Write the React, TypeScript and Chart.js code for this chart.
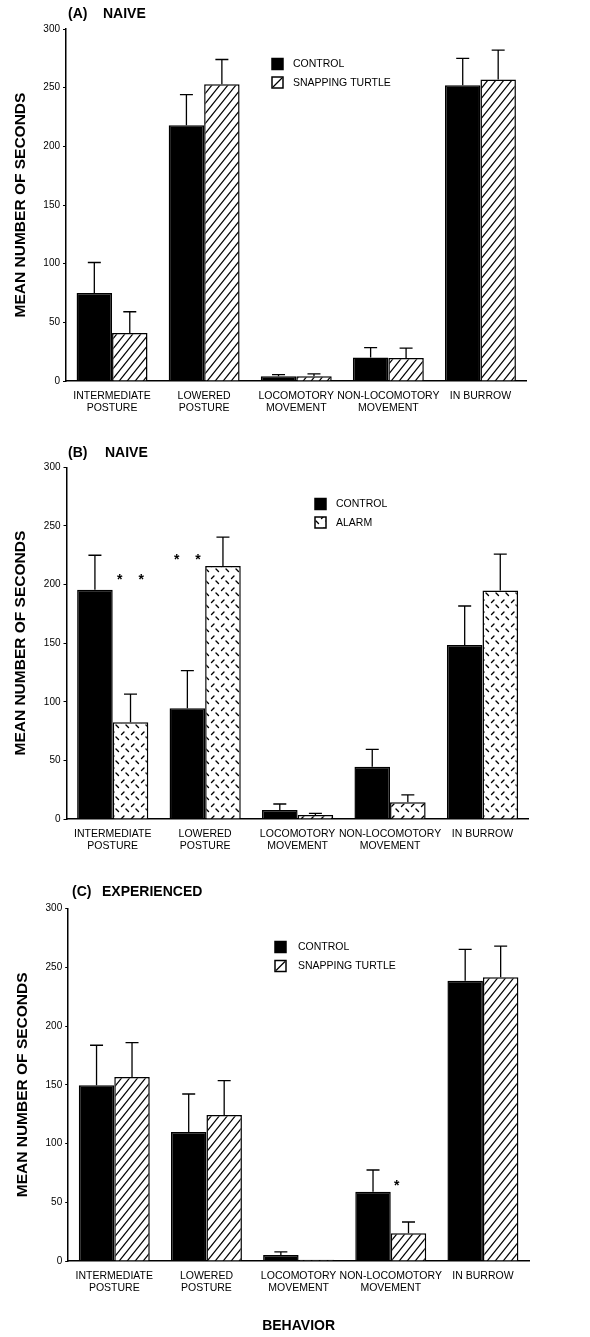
import React, { useEffect, useRef } from 'react';
import { Chart, registerables } from 'chart.js';

Chart.register(...registerables);

const FONT = "'Liberation Sans', Arial, Helvetica, sans-serif";

// ---------- data ----------
const categories: (string | string[])[] = [
  ['INTERMEDIATE', 'POSTURE'],
  ['LOWERED', 'POSTURE'],
  ['LOCOMOTORY', 'MOVEMENT'],
  ['NON-LOCOMOTORY', 'MOVEMENT'],
  'IN BURROW',
];
const yTicks = [0, 50, 100, 150, 200, 250, 300];

// (A) NAIVE – control vs snapping turtle
const aControl = [75, 218, 4, 20, 252];
const aControlErr = [101, 244, 5.5, 28.5, 275];
const aTurtle = [41, 253, 4, 19.5, 257];
const aTurtleErr = [59, 274, 6, 28, 282];

// (B) NAIVE – control vs alarm
const bControl = [195.5, 94.5, 7.7, 44.6, 148.4];
const bControlErr = [225, 126.5, 12.8, 59.4, 181.7];
const bAlarm = [82.5, 215.8, 3.4, 14.2, 195];
const bAlarmErr = [106.6, 240.5, 4.8, 20.5, 226];

// (C) EXPERIENCED – control vs snapping turtle
const cControl = [149.6, 109.8, 5.1, 59, 238.7];
const cControlErr = [183.7, 142.2, 7.7, 77.5, 265.4];
const cTurtle = [156.7, 124.3, 1, 23.6, 241.6];
const cTurtleErr: (number | null)[] = [185.9, 153.6, null, 33.2, 268.2];

// significance marks: category, dataset, number of stars, height (value units)
const bStars = [
  { cat: 0, ds: 1, count: 2, value: 207 },
  { cat: 1, ds: 0, count: 2, value: 224 },
  { cat: 4, ds: 0, count: 1, value: 209 },
];
const cStars = [{ cat: 3, ds: 1, count: 1, value: 67, shift: -0.33 }];

// ---------- patterns ----------
function hatchPattern(): CanvasPattern | string {
  const w = 8, h = 10;
  const c = document.createElement('canvas');
  c.width = w; c.height = h;
  const g = c.getContext('2d')!;
  g.fillStyle = '#fff';
  g.fillRect(0, 0, w, h);
  g.strokeStyle = '#000';
  g.lineWidth = 1.2;
  for (let k = -1; k <= 1; k++) {
    g.beginPath();
    g.moveTo(-w + k * w, 2 * h);
    g.lineTo(2 * w + k * w, -h);
    g.stroke();
  }
  return g.createPattern(c, 'repeat') || '#fff';
}

function alarmPattern(): CanvasPattern | string {
  const w = 10, h = 12;
  const c = document.createElement('canvas');
  c.width = w; c.height = h;
  const g = c.getContext('2d')!;
  g.fillStyle = '#fff';
  g.fillRect(0, 0, w, h);
  g.strokeStyle = '#000';
  g.lineWidth = 1.4;
  g.lineCap = 'round';
  g.beginPath();
  g.moveTo(1.5, 4.5); g.lineTo(4, 2);
  g.moveTo(6, 7); g.lineTo(8.5, 9.5);
  g.stroke();
  return g.createPattern(c, 'repeat') || '#fff';
}

// ---------- plugins ----------
const errorBars = {
  id: 'errorBars',
  afterDatasetsDraw(chart: any) {
    const { ctx } = chart;
    const y = chart.scales.y;
    chart.data.datasets.forEach((ds: any, di: number) => {
      const meta = chart.getDatasetMeta(di);
      const tops = ds.errTop || [];
      meta.data.forEach((bar: any, i: number) => {
        const t = tops[i];
        if (t == null) return;
        const yt = y.getPixelForValue(t);
        ctx.save();
        ctx.strokeStyle = '#000';
        ctx.lineWidth = 1.3;
        ctx.beginPath();
        ctx.moveTo(bar.x, bar.y);
        ctx.lineTo(bar.x, yt);
        ctx.moveTo(bar.x - 6.5, yt);
        ctx.lineTo(bar.x + 6.5, yt);
        ctx.stroke();
        ctx.restore();
      });
    });
  },
};

const stars = {
  id: 'stars',
  afterDatasetsDraw(chart: any, _a: any, opts: any) {
    const list = opts?.marks || [];
    const { ctx } = chart;
    const y = chart.scales.y;
    list.forEach((m: any) => {
      const bar = chart.getDatasetMeta(m.ds).data[m.cat];
      const yp = y.getPixelForValue(m.value);
      const w = bar.width;
      const xs = m.count === 2 ? [bar.x - 0.3 * w, bar.x + 0.3 * w] : [bar.x + (m.shift || 0) * w];
      ctx.save();
      ctx.fillStyle = '#000';
      ctx.font = `bold 14px ${FONT}`;
      ctx.textAlign = 'center';
      ctx.textBaseline = 'alphabetic';
      xs.forEach((x) => ctx.fillText('*', x, yp + 8));
      ctx.restore();
    });
  },
};

const boxLegend = {
  id: 'boxLegend',
  afterDraw(chart: any, _a: any, opts: any) {
    if (!opts || !opts.display) return;
    const { ctx } = chart;
    chart.data.datasets.forEach((ds: any, i: number) => {
      const cy = opts.y + i * opts.gap;
      const s = opts.box;
      ctx.save();
      ctx.fillStyle = ds.legendFill || ds.backgroundColor;
      ctx.fillRect(opts.x, cy - s / 2, s, s);
      ctx.strokeStyle = '#000';
      ctx.lineWidth = 1.5;
      ctx.strokeRect(opts.x, cy - s / 2, s, s);
      if (ds.legendMark === 'slash') {
        ctx.lineWidth = 1.2;
        ctx.beginPath();
        ctx.moveTo(opts.x + 1, cy + s / 2 - 1);
        ctx.lineTo(opts.x + s - 1, cy - s / 2 + 1);
        ctx.stroke();
      }
      ctx.fillStyle = '#000';
      ctx.font = `10.5px ${FONT}`;
      ctx.textAlign = 'left';
      ctx.textBaseline = 'middle';
      ctx.fillText(ds.label, opts.textX, cy + 0.5);
      ctx.restore();
    });
  },
};

const panelTitle = {
  id: 'panelTitle',
  afterDraw(chart: any, _a: any, opts: any) {
    if (!opts || !opts.tag) return;
    const { ctx } = chart;
    ctx.save();
    ctx.fillStyle = '#000';
    ctx.font = `bold 14px ${FONT}`;
    ctx.textAlign = 'left';
    ctx.textBaseline = 'middle';
    ctx.fillText(opts.tag, opts.x, opts.y);
    ctx.fillText(opts.text, opts.textX, opts.y);
    ctx.restore();
  },
};

// ---------- chart builder ----------
type PanelCfg = {
  padTop: number;
  padRight: number;
  yWidth: number;
  xHeight: number;
  yTitlePad: number;
  showXTitle: boolean;
  datasets: any[];
  legend: any;
  title: any;
  marks: any[];
};

function buildConfig(p: PanelCfg): any {
  return {
    type: 'bar',
    data: { labels: categories, datasets: p.datasets },
    plugins: [errorBars, stars, boxLegend, panelTitle],
    options: {
      responsive: false,
      animation: false,
      events: [],
      layout: { padding: { top: p.padTop, right: p.padRight, bottom: 0, left: 0 } },
      plugins: {
        legend: { display: false },
        tooltip: { enabled: false },
        title: { display: false },
        boxLegend: p.legend,
        panelTitle: p.title,
        stars: { marks: p.marks },
      },
      scales: {
        x: {
          type: 'category',
          offset: true,
          grid: { display: false, drawTicks: false },
          border: { display: true, color: '#000', width: 1.5 },
          ticks: {
            color: '#000',
            font: { family: FONT, size: 10.5, lineHeight: 1.15 },
            padding: 9,
            maxRotation: 0,
            minRotation: 0,
            autoSkip: false,
          },
          title: {
            display: p.showXTitle,
            text: 'BEHAVIOR',
            color: '#000',
            font: { family: FONT, size: 14, weight: 'bold' },
            padding: { top: 0, bottom: 2 },
          },
          afterFit: (s: any) => { s.height = p.xHeight; },
        },
        y: {
          min: 0,
          max: 300,
          afterBuildTicks: (s: any) => { s.ticks = yTicks.map((v) => ({ value: v })); },
          grid: { display: true, drawOnChartArea: false, drawTicks: true, tickLength: 3, color: '#000', lineWidth: 1 },
          border: { display: true, color: '#000', width: 1.5 },
          ticks: { color: '#000', font: { family: FONT, size: 10 }, padding: 3 },
          title: {
            display: true,
            text: 'MEAN NUMBER OF SECONDS',
            color: '#000',
            font: { family: FONT, size: 15.5, weight: 'bold' },
            padding: { top: p.yTitlePad, bottom: 0 },
          },
          afterFit: (s: any) => { s.width = p.yWidth; },
        },
      },
    },
  };
}

function barDs(label: string, data: (number | null)[], err: (number | null)[], fill: any, mark?: string) {
  return {
    label,
    data,
    errTop: err,
    backgroundColor: fill,
    borderColor: '#000',
    borderWidth: 1.5,
    borderSkipped: 'bottom',
    categoryPercentage: 0.77,
    barPercentage: 1,
    legendMark: mark,
    legendFill: mark === 'slash' ? '#fff' : undefined,
  };
}

export default function App() {
  const refA = useRef<HTMLCanvasElement>(null);
  const refB = useRef<HTMLCanvasElement>(null);
  const refC = useRef<HTMLCanvasElement>(null);

  useEffect(() => {
    const hatch = hatchPattern();
    const alarm = alarmPattern();

    const cfgA = buildConfig({
      padTop: 29, padRight: 63.5, yWidth: 66, xHeight: 49, yTitlePad: 11, showXTitle: false,
      datasets: [
        barDs('CONTROL', aControl, aControlErr, '#000'),
        barDs('SNAPPING TURTLE', aTurtle, aTurtleErr, hatch, 'slash'),
      ],
      legend: { display: true, x: 272, y: 64, gap: 18.5, box: 11, textX: 293 },
      title: { tag: '(A)', text: 'NAIVE', x: 68, textX: 103, y: 14 },
      marks: [],
    });
    const cfgB = buildConfig({
      padTop: 37.3, padRight: 61.3, yWidth: 66.5, xHeight: 41, yTitlePad: 11.5, showXTitle: false,
      datasets: [
        barDs('CONTROL', bControl, bControlErr, '#000'),
        barDs('ALARM', bAlarm, bAlarmErr, alarm),
      ],
      legend: { display: true, x: 315, y: 74, gap: 18.5, box: 11, textX: 336 },
      title: { tag: '(B)', text: 'NAIVE', x: 68, textX: 105, y: 22.7 },
      marks: bStars,
    });
    const cfgC = buildConfig({
      padTop: 48.7, padRight: 61, yWidth: 68.2, xHeight: 76, yTitlePad: 13, showXTitle: true,
      datasets: [
        barDs('CONTROL', cControl, cControlErr, '#000'),
        barDs('SNAPPING TURTLE', cTurtle, cTurtleErr, hatch, 'slash'),
      ],
      legend: { display: true, x: 275, y: 87, gap: 19, box: 11, textX: 298 },
      title: { tag: '(C)', text: 'EXPERIENCED', x: 72, textX: 102, y: 31.7 },
      marks: cStars,
    });

    const charts = [
      new Chart(refA.current!, cfgA),
      new Chart(refB.current!, cfgB),
      new Chart(refC.current!, cfgC),
    ];
    return () => charts.forEach((c) => c.destroy());
  }, []);

  const cv = (top: number, h: number): React.CSSProperties => ({
    position: 'absolute', left: 0, top, width: 590, height: h, display: 'block',
  });

  return (
    <div style={{ position: 'absolute', left: 0, top: 0, width: 590, height: 1337, background: '#fff' }}>
      <canvas ref={refA} width={590} height={430} style={cv(0, 430)} />
      <canvas ref={refB} width={590} height={430} style={cv(430, 430)} />
      <canvas ref={refC} width={590} height={477} style={cv(860, 477)} />
    </div>
  );
}
